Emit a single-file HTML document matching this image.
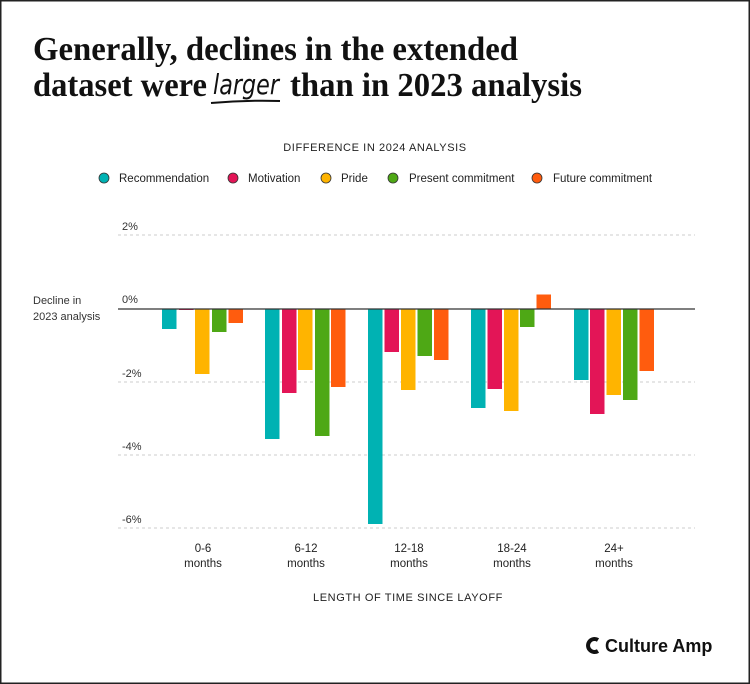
<!DOCTYPE html>
<html><head><meta charset="utf-8"><style>
html,body{margin:0;padding:0;background:#fff}
svg{display:block}
text{font-family:"Liberation Sans",sans-serif}
</style></head><body>
<svg width="750" height="684" viewBox="0 0 750 684" xmlns="http://www.w3.org/2000/svg">
<rect x="0.5" y="0.5" width="749" height="683" fill="#fff" stroke="#222" stroke-width="2"/>
<g font-family="Liberation Serif,serif" font-weight="bold" font-size="34" fill="#111">
<text x="33" y="60" textLength="485" lengthAdjust="spacingAndGlyphs" style="font-family:'Liberation Serif',serif">Generally, declines in the extended</text>
<text x="33" y="96" textLength="174" lengthAdjust="spacingAndGlyphs" style="font-family:'Liberation Serif',serif">dataset were</text>
<text x="290" y="96" textLength="292" lengthAdjust="spacingAndGlyphs" style="font-family:'Liberation Serif',serif">than in 2023 analysis</text>
</g>
<text x="213" y="94" font-size="28" font-style="italic" fill="#111" textLength="66" lengthAdjust="spacingAndGlyphs" style="font-family:'DejaVu Sans',sans-serif;font-weight:normal">larger</text>
<path d="M211 103 Q245 100 280 101" stroke="#111" stroke-width="2" fill="none"/>
<text x="375" y="151" font-size="11" text-anchor="middle" fill="#222" letter-spacing="0.6">DIFFERENCE IN 2024 ANALYSIS</text>
<g font-size="11.5" fill="#222">
<circle cx="104" cy="178" r="5" fill="#00b2b3" stroke="#333" stroke-width="0.8"/><text x="119" y="182">Recommendation</text>
<circle cx="233" cy="178" r="5" fill="#e31557" stroke="#333" stroke-width="0.8"/><text x="248" y="182">Motivation</text>
<circle cx="326" cy="178" r="5" fill="#ffb400" stroke="#333" stroke-width="0.8"/><text x="341" y="182">Pride</text>
<circle cx="393" cy="178" r="5" fill="#4ea815" stroke="#333" stroke-width="0.8"/><text x="409" y="182">Present commitment</text>
<circle cx="537" cy="178" r="5" fill="#ff5c0e" stroke="#333" stroke-width="0.8"/><text x="553" y="182">Future commitment</text>
</g>
<g stroke="#ccc" stroke-dasharray="3,3" stroke-width="1">
<line x1="118" y1="235" x2="695" y2="235"/><line x1="118" y1="382" x2="695" y2="382"/>
<line x1="118" y1="455" x2="695" y2="455"/><line x1="118" y1="528" x2="695" y2="528"/>
</g>
<g font-size="11" fill="#333">
<text x="122" y="230">2%</text><text x="122" y="303">0%</text><text x="122" y="377">-2%</text><text x="122" y="450">-4%</text><text x="122" y="523">-6%</text>
<text x="33" y="304">Decline in</text><text x="33" y="320">2023 analysis</text>
</g>
<g>
<rect x="162" y="309" width="14.5" height="20" fill="#00b2b3"/>
<rect x="179" y="309" width="14.5" height="1" fill="#e31557"/>
<rect x="195" y="309" width="14.5" height="65" fill="#ffb400"/>
<rect x="212" y="309" width="14.5" height="23" fill="#4ea815"/>
<rect x="228.5" y="309" width="14.5" height="14" fill="#ff5c0e"/>

<rect x="265" y="309" width="14.5" height="130" fill="#00b2b3"/>
<rect x="282" y="309" width="14.5" height="84" fill="#e31557"/>
<rect x="298" y="309" width="14.5" height="61" fill="#ffb400"/>
<rect x="315" y="309" width="14.5" height="127" fill="#4ea815"/>
<rect x="331" y="309" width="14.5" height="78" fill="#ff5c0e"/>

<rect x="368" y="309" width="14.5" height="215" fill="#00b2b3"/>
<rect x="384.5" y="309" width="14.5" height="43" fill="#e31557"/>
<rect x="401" y="309" width="14.5" height="81" fill="#ffb400"/>
<rect x="417.5" y="309" width="14.5" height="47" fill="#4ea815"/>
<rect x="434" y="309" width="14.5" height="51" fill="#ff5c0e"/>

<rect x="471" y="309" width="14.5" height="99" fill="#00b2b3"/>
<rect x="487.5" y="309" width="14.5" height="80" fill="#e31557"/>
<rect x="504" y="309" width="14.5" height="102" fill="#ffb400"/>
<rect x="520" y="309" width="14.5" height="18" fill="#4ea815"/>
<rect x="536.5" y="294.5" width="14.5" height="14.5" fill="#ff5c0e"/>

<rect x="574" y="309" width="14.5" height="71" fill="#00b2b3"/>
<rect x="590" y="309" width="14.5" height="105" fill="#e31557"/>
<rect x="606.5" y="309" width="14.5" height="86" fill="#ffb400"/>
<rect x="623" y="309" width="14.5" height="91" fill="#4ea815"/>
<rect x="639.5" y="309" width="14.5" height="62" fill="#ff5c0e"/>
</g>
<line x1="118" y1="309" x2="695" y2="309" stroke="#333" stroke-width="1.2"/>
<g font-size="11.5" fill="#222" text-anchor="middle">
<text x="203" y="552">0-6</text><text x="203" y="567">months</text>
<text x="306" y="552">6-12</text><text x="306" y="567">months</text>
<text x="409" y="552">12-18</text><text x="409" y="567">months</text>
<text x="512" y="552">18-24</text><text x="512" y="567">months</text>
<text x="614" y="552">24+</text><text x="614" y="567">months</text>
</g>
<text x="408" y="601" font-size="11" text-anchor="middle" fill="#222" letter-spacing="0.6">LENGTH OF TIME SINCE LAYOFF</text>
<path d="M598 640 A6.5 6.5 0 1 0 598 651" stroke="#111" stroke-width="4" fill="none"/>
<text x="605" y="652" font-size="18" font-weight="bold" fill="#111">Culture Amp</text>
</svg>
</body></html>
